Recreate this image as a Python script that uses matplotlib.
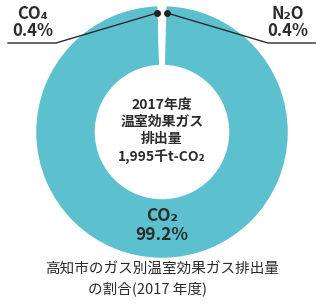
import matplotlib
matplotlib.use("Agg")
import matplotlib.pyplot as plt
import numpy as np

plt.rcParams['font.family'] = ['Noto Sans CJK JP', 'DejaVu Sans']

# data
gases = ['N₂O', 'CO₂', 'CO₄']
shares = [0.4, 99.2, 0.4]
total_text = ['2017年度', '温室効果ガス', '排出量', '1,995千t-CO₂']
caption = ['高知市のガス別温室効果ガス排出量', 'の割合(2017 年度)']

W, H = 316, 305
main_col = '#5cc0cf'
minor_col = '#e4f0dc'
txt = '#2b2b2b'

fig = plt.figure(figsize=(W / 100, H / 100), dpi=100)
ax = fig.add_axes([0, 0, 1, 1])

cx, cy, R = 162, H - 132, 127

wedges, _ = ax.pie(shares, colors=[minor_col, main_col, minor_col],
                   startangle=90, counterclock=False, center=(cx, cy), radius=R,
                   wedgeprops=dict(width=61, edgecolor='white', linewidth=1.8))
ax.set_xlim(0, W)
ax.set_ylim(0, H)
ax.set_aspect('equal')
ax.axis('off')

def Y(y):
    return H - y

# centre text
for line, y in zip(total_text, [105, 122, 139, 157]):
    ax.text(cx, Y(y), line, ha='center', va='center', fontsize=10,
            fontweight='bold', color=txt)

# CO2 label
ax.text(cx, Y(216), gases[1], ha='center', va='center', fontsize=12.5,
        fontweight='bold', color=txt)
ax.text(cx, Y(235), f'{shares[1]}%', ha='center', va='center', fontsize=12.5,
        fontweight='bold', color=txt)

# small slice labels with leader lines
for w, name, val, side in [(wedges[0], gases[0], shares[0], 1),
                           (wedges[2], gases[2], shares[2], -1)]:
    ang = np.deg2rad(90 - side * 2.6)
    px, py = cx + 119 * np.cos(ang), cy + 119 * np.sin(ang)
    kx = cx + side * 106
    ex = W if side > 0 else 8
    ax.plot([px, kx, ex], [py, Y(43), Y(43)], color=txt, lw=1.0,
            solid_joinstyle='miter')
    ax.plot(px, py, 'o', color='#222222', ms=4)
    lx = 288 if side > 0 else 33
    ax.text(lx, Y(14), name, ha='center', va='center', fontsize=12,
            fontweight='bold', color=txt)
    ax.text(lx, Y(31), f'{val}%', ha='center', va='center', fontsize=12,
            fontweight='bold', color=txt)

# caption
ax.text(162, Y(270), caption[0], ha='center', va='center', fontsize=10.5,
        color=txt)
ax.text(148, Y(289), caption[1], ha='center', va='center', fontsize=10.5,
        color=txt)

fig.savefig('out.png', dpi=100)
